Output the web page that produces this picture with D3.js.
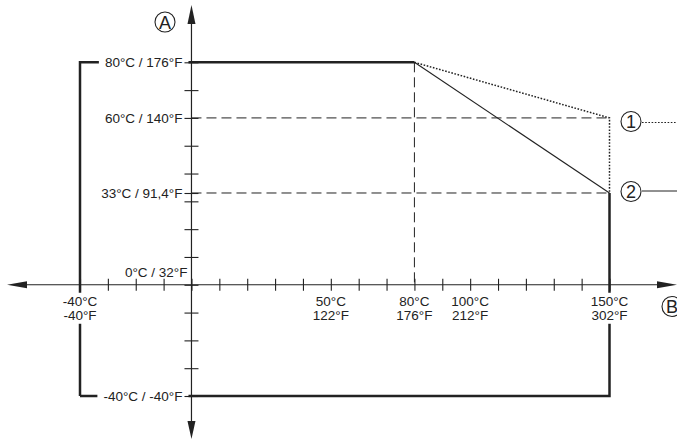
<!DOCTYPE html>
<html>
<head>
<meta charset="utf-8">
<script src="https://cdn.jsdelivr.net/npm/d3@7"></script>
<style>
  body { margin: 0; background: #fff; }
  text { font-family: "Liberation Sans", Arial, sans-serif; fill: #222; }
</style>
</head>
<body>
<svg id="chart"></svg>
<script>
// ambient temperature (x, °C) vs process temperature (y, °C)
const xTicks = [-40, -30, -20, -10, 0, 10, 20, 30, 40, 50, 60, 70, 80, 90, 100, 110, 120, 130, 140, 150];
const yTicks = [-40, -30, -20, -10, 0, 10, 20, 30, 33, 40, 50, 60, 70, 80];
const xLabels = [
    { v: -40, c: '-40°C', f: '-40°F' },
    { v: 50, c: '50°C', f: '122°F' },
    { v: 80, c: '80°C', f: '176°F' },
    { v: 100, c: '100°C', f: '212°F' },
    { v: 150, c: '150°C', f: '302°F' }
];
const yLabels = [
    { v: 80, t: '80°C / 176°F' },
    { v: 60, t: '60°C / 140°F' },
    { v: 33, t: '33°C / 91,4°F' },
    { v: -40, t: '-40°C / -40°F' }
];
const boundaryTop = [[-40, -40], [-40, 80], [80, 80]];
const boundaryRight = [[150, 33], [150, -40], [-40, -40]];
const curve1 = [[80, 80], [150, 60], [150, 33]];   // dotted
const curve2 = [[80, 80], [150, 33]];              // solid
const guidesH = [60, 33];
const guidesV = [80];

const width = 677;
const height = 440;
const ink = '#222';

const svg = d3.select('svg#chart')
    .attr('width', width)
    .attr('height', height);

const x = d3.scaleLinear().domain([-40, 150]).range([80, 609.5]);
const y = d3.scaleLinear().domain([-40, 80]).range([396, 62.3]);

const line = d3.line().x(d => x(d[0])).y(d => y(d[1]));

// dashed guides
svg.append('g')
    .selectAll('line')
    .data(guidesH)
    .join('line')
    .attr('x1', x(0)).attr('x2', x(150))
    .attr('y1', d => y(d)).attr('y2', d => y(d))
    .attr('stroke', ink).attr('stroke-width', 1)
    .attr('stroke-dasharray', '10,5');

svg.append('g')
    .selectAll('line')
    .data(guidesV)
    .join('line')
    .attr('x1', d => x(d)).attr('x2', d => x(d))
    .attr('y1', d => y(80)).attr('y2', y(0))
    .attr('stroke', ink).attr('stroke-width', 1)
    .attr('stroke-dasharray', '10,5');

// boundary
svg.append('path')
    .attr('d', line(boundaryTop))
    .attr('fill', 'none').attr('stroke', ink).attr('stroke-width', 2.5);
svg.append('path')
    .attr('d', line(boundaryRight))
    .attr('fill', 'none').attr('stroke', ink).attr('stroke-width', 2.5);

// derating curves
svg.append('path')
    .attr('d', line(curve1))
    .attr('fill', 'none').attr('stroke', ink).attr('stroke-width', 1.5)
    .attr('stroke-dasharray', '1.6,1.6');
svg.append('path')
    .attr('d', line(curve2))
    .attr('fill', 'none').attr('stroke', ink).attr('stroke-width', 1.1);

// labels with white backgrounds (they break the boundary line)
function labelBox(g, pad) {
    const b = g.node().getBBox();
    g.insert('rect', ':first-child')
        .attr('x', b.x - pad).attr('y', b.y - 1)
        .attr('width', b.width + pad * 2).attr('height', b.height + 2)
        .attr('fill', '#fff');
}

yLabels.forEach(d => {
    const g = svg.append('g');
    g.append('text')
        .attr('x', x(0) - 9)
        .attr('y', y(d.v) + 5)
        .attr('text-anchor', 'end')
        .attr('font-size', 13.5)
        .text(d.t);
    labelBox(g, 6);
});

xLabels.forEach(d => {
    const g = svg.append('g');
    const t = g.append('text')
        .attr('text-anchor', 'middle')
        .attr('font-size', 13.5);
    t.append('tspan').attr('x', x(d.v)).attr('y', y(0) + 21).text(d.c);
    t.append('tspan').attr('x', x(d.v)).attr('y', y(0) + 35).text(d.f);
    if (d.v === -40 || d.v === 150) labelBox(g, 4);
});

svg.append('text')
    .attr('x', x(0) - 4)
    .attr('y', y(0) - 8)
    .attr('text-anchor', 'end')
    .attr('font-size', 13.5)
    .text('0°C / 32°F');

// axes
const xAxis = svg.append('g')
    .attr('transform', `translate(0,${y(0)})`)
    .call(d3.axisBottom(x).tickValues(xTicks).tickSize(6).tickFormat(''));
xAxis.select('.domain').remove();
xAxis.selectAll('.tick line').attr('y1', -6).attr('y2', 6).attr('stroke', ink).attr('stroke-width', 1.1);

const yAxis = svg.append('g')
    .attr('transform', `translate(${x(0)},0)`)
    .call(d3.axisLeft(y).tickValues(yTicks).tickSize(7).tickFormat(''));
yAxis.select('.domain').remove();
yAxis.selectAll('.tick line').attr('x1', -7).attr('x2', 7).attr('stroke', ink).attr('stroke-width', 1.1);

// axis lines with arrow heads
svg.append('line')
    .attr('x1', 22).attr('x2', 664)
    .attr('y1', y(0)).attr('y2', y(0))
    .attr('stroke', ink).attr('stroke-width', 1.2);
svg.append('line')
    .attr('x1', x(0)).attr('x2', x(0))
    .attr('y1', 20).attr('y2', 428)
    .attr('stroke', ink).attr('stroke-width', 1.2);

const arrows = [
    [[7, y(0)], [27, y(0) - 3.5], [27, y(0) + 3.5]],
    [[677, y(0)], [657, y(0) - 3.5], [657, y(0) + 3.5]],
    [[x(0), 5], [x(0) - 4, 24], [x(0) + 4, 24]],
    [[x(0), 439], [x(0) - 4, 421], [x(0) + 4, 421]]
];
svg.append('g')
    .selectAll('path')
    .data(arrows)
    .join('path')
    .attr('d', d => 'M' + d.join('L') + 'Z')
    .attr('fill', ink);

// circled markers
const markers = [
    { cx: 165, cy: 22, t: 'A' },
    { cx: 672, cy: 306.5, t: 'B' },
    { cx: 631, cy: 121.5, t: '1' },
    { cx: 631, cy: 191.5, t: '2' }
];
const mk = svg.append('g')
    .selectAll('g')
    .data(markers)
    .join('g')
    .attr('transform', d => `translate(${d.cx},${d.cy})`);
mk.append('circle')
    .attr('r', 10)
    .attr('fill', '#fff').attr('stroke', ink).attr('stroke-width', 1.1);
mk.append('text')
    .attr('text-anchor', 'middle')
    .attr('y', 6.5)
    .attr('font-size', 18)
    .text(d => d.t);

svg.append('line')
    .attr('x1', 642).attr('x2', 677)
    .attr('y1', 122.5).attr('y2', 122.5)
    .attr('stroke', ink).attr('stroke-width', 1.2)
    .attr('stroke-dasharray', '1.6,1.6');
svg.append('line')
    .attr('x1', 642).attr('x2', 677)
    .attr('y1', 191).attr('y2', 191)
    .attr('stroke', ink).attr('stroke-width', 1);
</script>
</body>
</html>
